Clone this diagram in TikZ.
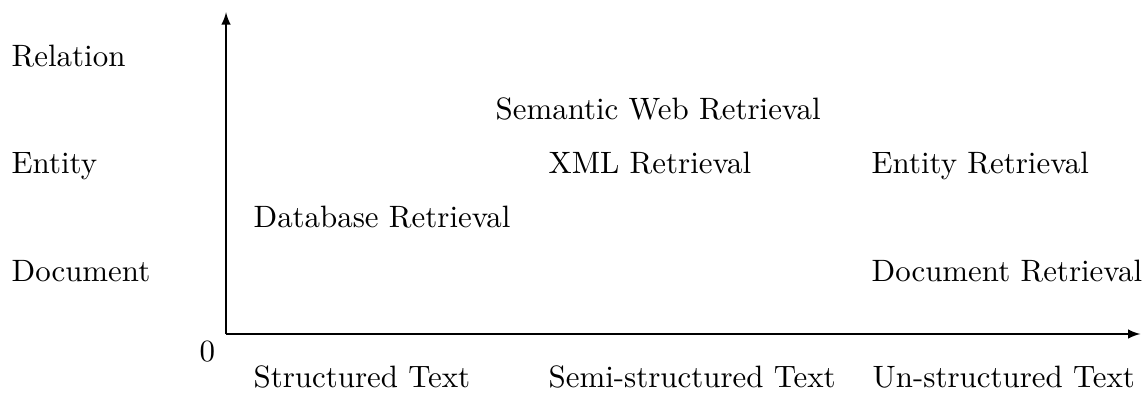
\documentclass[tikz,border=0pt]{standalone}
\begin{document}
\begin{tikzpicture}[>=latex, every node/.style={inner sep=0pt, anchor=base west}]
    \useasboundingbox (-2.571, -0.660) rectangle (10.452, 3.799);
    \coordinate (o) at (0, 0);
    \coordinate (ytop) at (0, 3.66);
    \coordinate (xend) at (10.40, 0);
    \draw[->] (o) -- (ytop);
    \draw[->] (o) -- (xend);
    % levels
    \node (relation) at (-2.445, 3.048) {Relation};
    \node (entity) at (-2.445, 1.831) {Entity};
    \node (document) at (-2.445, 0.603) {Document};
    \node (zero) at (-0.307, -0.318) {0};
    % text types
    \node (structured) at (0.307, -0.603) {Structured Text};
    \node (semi) at (3.662, -0.603) {Semi-structured Text};
    \node (unstructured) at (7.348, -0.603) {Un-structured Text};
    % tasks
    \node (database) at (0.307, 1.206) {Database Retrieval};
    \node (semweb) at (3.060, 2.445) {Semantic Web Retrieval};
    \node (xml) at (3.662, 1.831) {XML Retrieval};
    \node (entityret) at (7.336, 1.831) {Entity Retrieval};
    \node (docret) at (7.336, 0.603) {Document Retrieval};
  \end{tikzpicture}
\end{document}
